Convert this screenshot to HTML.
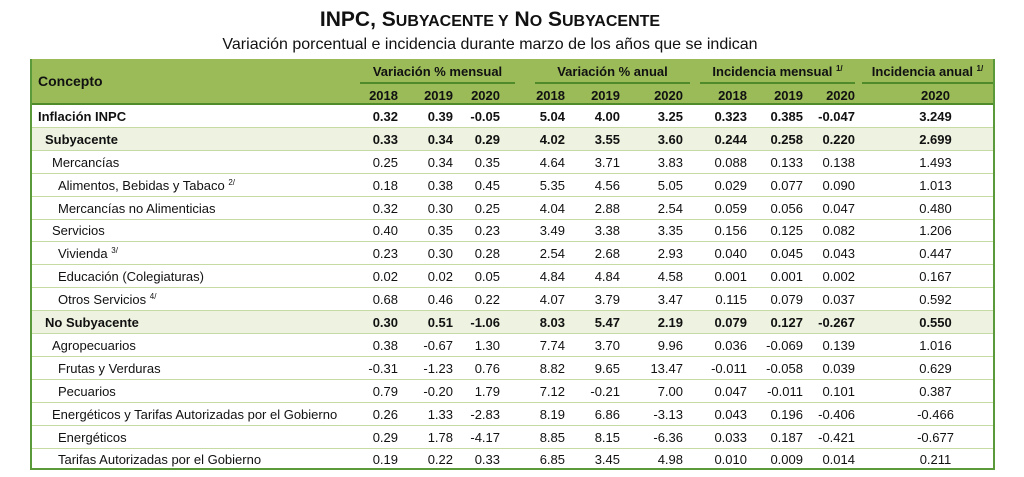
<!DOCTYPE html>
<html><head><meta charset="utf-8"><style>
body{margin:0;width:1024px;height:477px;background:#fff;font-family:"Liberation Sans",sans-serif;position:relative;overflow:hidden;color:#111}
.t{position:absolute;white-space:nowrap}
#title{left:0;width:980px;text-align:center;top:8px;font-size:21px;font-weight:bold}
#title small{font-size:16px}
#sub{left:0;width:980px;text-align:center;top:36px;font-size:16px}
#tbl{position:absolute;left:30px;top:59px;width:965px;height:411px;border:2px solid #5a9a3a;border-top:none;box-sizing:border-box}
#hdr{position:absolute;left:30px;top:59px;width:965px;height:46px;background:#9bbb59;border-bottom:2px solid #4f8a2b;box-sizing:border-box}
.row{position:absolute;left:32px;width:961px;height:23px;border-bottom:1px solid #c6dba3;box-sizing:border-box;font-size:13px}
.row span{position:absolute;top:4px;white-space:nowrap}
.b{font-weight:bold}
.sh{background:#eef3e1}
.gl{position:absolute;top:82px;height:2px;background:#4f8a2b}
.h{font-size:13px;font-weight:bold;position:absolute;white-space:nowrap}
sup{font-size:8px;vertical-align:5px}
.l0{left:6px}.l1{left:13px}.l2{left:20px}.l3{left:26px}
.c1{right:595px}.c2{right:540px}.c3{right:493px}.c4{right:428px}.c5{right:373px}.c6{right:310px}.c7{right:246px}.c8{right:190px}.c9{right:138px}
.c10{left:838px;width:131px;text-align:center}
.hy{top:88px}
</style></head><body>
<div class="t" id="title">INPC, S<small>UBYACENTE Y</small> N<small>O</small> S<small>UBYACENTE</small></div>
<div class="t" id="sub">Variación porcentual e incidencia durante marzo de los años que se indican</div>
<div id="hdr"></div>
<div id="tbl"></div>
<div class="gl" style="left:360px;width:155px"></div>
<div class="gl" style="left:535px;width:155px"></div>
<div class="gl" style="left:700px;width:155px"></div>
<div class="gl" style="left:862px;width:131px"></div>
<div class="h" style="left:38px;top:73px;font-size:14px">Concepto</div>
<div class="h" style="left:360px;width:155px;text-align:center;top:64px">Variación % mensual</div>
<div class="h" style="left:535px;width:155px;text-align:center;top:64px">Variación % anual</div>
<div class="h" style="left:700px;width:155px;text-align:center;top:64px">Incidencia mensual <sup>1/</sup></div>
<div class="h" style="left:862px;width:131px;text-align:center;top:64px">Incidencia anual <sup>1/</sup></div>
<div class="h hy" style="right:626px">2018</div>
<div class="h hy" style="right:571px">2019</div>
<div class="h hy" style="right:524px">2020</div>
<div class="h hy" style="right:459px">2018</div>
<div class="h hy" style="right:404px">2019</div>
<div class="h hy" style="right:341px">2020</div>
<div class="h hy" style="right:277px">2018</div>
<div class="h hy" style="right:221px">2019</div>
<div class="h hy" style="right:169px">2020</div>
<div class="h hy" style="left:870px;width:131px;text-align:center">2020</div>

<div class="row b" style="top:105px"><span class="l0">Inflación INPC</span><span class="c1">0.32</span><span class="c2">0.39</span><span class="c3">-0.05</span><span class="c4">5.04</span><span class="c5">4.00</span><span class="c6">3.25</span><span class="c7">0.323</span><span class="c8">0.385</span><span class="c9">-0.047</span><span class="c10">3.249</span></div>
<div class="row b sh" style="top:128px"><span class="l1">Subyacente</span><span class="c1">0.33</span><span class="c2">0.34</span><span class="c3">0.29</span><span class="c4">4.02</span><span class="c5">3.55</span><span class="c6">3.60</span><span class="c7">0.244</span><span class="c8">0.258</span><span class="c9">0.220</span><span class="c10">2.699</span></div>
<div class="row" style="top:151px"><span class="l2">Mercancías</span><span class="c1">0.25</span><span class="c2">0.34</span><span class="c3">0.35</span><span class="c4">4.64</span><span class="c5">3.71</span><span class="c6">3.83</span><span class="c7">0.088</span><span class="c8">0.133</span><span class="c9">0.138</span><span class="c10">1.493</span></div>
<div class="row" style="top:174px"><span class="l3">Alimentos, Bebidas y Tabaco <sup>2/</sup></span><span class="c1">0.18</span><span class="c2">0.38</span><span class="c3">0.45</span><span class="c4">5.35</span><span class="c5">4.56</span><span class="c6">5.05</span><span class="c7">0.029</span><span class="c8">0.077</span><span class="c9">0.090</span><span class="c10">1.013</span></div>
<div class="row" style="top:197px"><span class="l3">Mercancías no Alimenticias</span><span class="c1">0.32</span><span class="c2">0.30</span><span class="c3">0.25</span><span class="c4">4.04</span><span class="c5">2.88</span><span class="c6">2.54</span><span class="c7">0.059</span><span class="c8">0.056</span><span class="c9">0.047</span><span class="c10">0.480</span></div>
<div class="row" style="top:219px"><span class="l2">Servicios</span><span class="c1">0.40</span><span class="c2">0.35</span><span class="c3">0.23</span><span class="c4">3.49</span><span class="c5">3.38</span><span class="c6">3.35</span><span class="c7">0.156</span><span class="c8">0.125</span><span class="c9">0.082</span><span class="c10">1.206</span></div>
<div class="row" style="top:242px"><span class="l3">Vivienda <sup>3/</sup></span><span class="c1">0.23</span><span class="c2">0.30</span><span class="c3">0.28</span><span class="c4">2.54</span><span class="c5">2.68</span><span class="c6">2.93</span><span class="c7">0.040</span><span class="c8">0.045</span><span class="c9">0.043</span><span class="c10">0.447</span></div>
<div class="row" style="top:265px"><span class="l3">Educación (Colegiaturas)</span><span class="c1">0.02</span><span class="c2">0.02</span><span class="c3">0.05</span><span class="c4">4.84</span><span class="c5">4.84</span><span class="c6">4.58</span><span class="c7">0.001</span><span class="c8">0.001</span><span class="c9">0.002</span><span class="c10">0.167</span></div>
<div class="row" style="top:288px"><span class="l3">Otros Servicios <sup>4/</sup></span><span class="c1">0.68</span><span class="c2">0.46</span><span class="c3">0.22</span><span class="c4">4.07</span><span class="c5">3.79</span><span class="c6">3.47</span><span class="c7">0.115</span><span class="c8">0.079</span><span class="c9">0.037</span><span class="c10">0.592</span></div>
<div class="row b sh" style="top:311px"><span class="l1">No Subyacente</span><span class="c1">0.30</span><span class="c2">0.51</span><span class="c3">-1.06</span><span class="c4">8.03</span><span class="c5">5.47</span><span class="c6">2.19</span><span class="c7">0.079</span><span class="c8">0.127</span><span class="c9">-0.267</span><span class="c10">0.550</span></div>
<div class="row" style="top:334px"><span class="l2">Agropecuarios</span><span class="c1">0.38</span><span class="c2">-0.67</span><span class="c3">1.30</span><span class="c4">7.74</span><span class="c5">3.70</span><span class="c6">9.96</span><span class="c7">0.036</span><span class="c8">-0.069</span><span class="c9">0.139</span><span class="c10">1.016</span></div>
<div class="row" style="top:357px"><span class="l3">Frutas y Verduras</span><span class="c1">-0.31</span><span class="c2">-1.23</span><span class="c3">0.76</span><span class="c4">8.82</span><span class="c5">9.65</span><span class="c6">13.47</span><span class="c7">-0.011</span><span class="c8">-0.058</span><span class="c9">0.039</span><span class="c10">0.629</span></div>
<div class="row" style="top:380px"><span class="l3">Pecuarios</span><span class="c1">0.79</span><span class="c2">-0.20</span><span class="c3">1.79</span><span class="c4">7.12</span><span class="c5">-0.21</span><span class="c6">7.00</span><span class="c7">0.047</span><span class="c8">-0.011</span><span class="c9">0.101</span><span class="c10">0.387</span></div>
<div class="row" style="top:403px"><span class="l2">Energéticos y Tarifas Autorizadas por el Gobierno</span><span class="c1">0.26</span><span class="c2">1.33</span><span class="c3">-2.83</span><span class="c4">8.19</span><span class="c5">6.86</span><span class="c6">-3.13</span><span class="c7">0.043</span><span class="c8">0.196</span><span class="c9">-0.406</span><span class="c10">-0.466</span></div>
<div class="row" style="top:426px"><span class="l3">Energéticos</span><span class="c1">0.29</span><span class="c2">1.78</span><span class="c3">-4.17</span><span class="c4">8.85</span><span class="c5">8.15</span><span class="c6">-6.36</span><span class="c7">0.033</span><span class="c8">0.187</span><span class="c9">-0.421</span><span class="c10">-0.677</span></div>
<div class="row" style="top:448px;border-bottom:none"><span class="l3">Tarifas Autorizadas por el Gobierno</span><span class="c1">0.19</span><span class="c2">0.22</span><span class="c3">0.33</span><span class="c4">6.85</span><span class="c5">3.45</span><span class="c6">4.98</span><span class="c7">0.010</span><span class="c8">0.009</span><span class="c9">0.014</span><span class="c10">0.211</span></div>
</body></html>
